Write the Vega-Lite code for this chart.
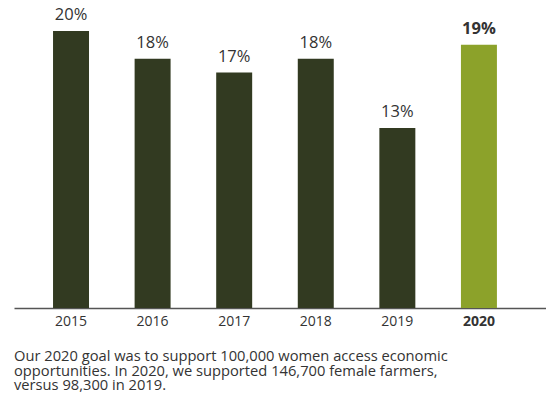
{
  "$schema": "https://vega.github.io/schema/vega-lite/v6.json",
  "width": 532,
  "height": 308,
  "padding": {"left": 14, "top": 0, "right": 0, "bottom": 0},
  "background": "white",
  "config": {"view": {"stroke": null}, "font": "Open Sans"},
  "title": {
    "text": [
      "Our 2020 goal was to support 100,000 women access economic",
      "opportunities. In 2020, we supported 146,700 female farmers,",
      "versus 98,300 in 2019."
    ],
    "orient": "bottom",
    "anchor": "start",
    "frame": "group",
    "fontSize": 14.7,
    "fontWeight": "normal",
    "color": "#333333",
    "lineHeight": 14.6,
    "offset": 21
  },
  "data": {
    "values": [
      {"year": "2015", "share": 0.20},
      {"year": "2016", "share": 0.18},
      {"year": "2017", "share": 0.17},
      {"year": "2018", "share": 0.18},
      {"year": "2019", "share": 0.13},
      {"year": "2020", "share": 0.19}
    ]
  },
  "encoding": {
    "x": {
      "field": "year",
      "type": "nominal",
      "sort": null,
      "scale": {"paddingInner": 0.559, "paddingOuter": 0.54, "align": 0.443},
      "axis": {
        "title": null,
        "labelAngle": 0,
        "ticks": false,
        "domain": true,
        "domainColor": "#555555",
        "domainWidth": 1.5,
        "labelFontSize": 14,
        "labelColor": "#333333",
        "labelPadding": 6,
        "labelFontWeight": {"condition": {"test": "datum.value === '2020'", "value": "bold"}, "value": "normal"}
      }
    },
    "y": {
      "field": "share",
      "type": "quantitative",
      "scale": {"domain": [0, 0.2224], "nice": false},
      "axis": null
    }
  },
  "layer": [
    {
      "mark": {"type": "bar"},
      "encoding": {
        "color": {
          "condition": {"test": "datum.year === '2020'", "value": "#8ca22a"},
          "value": "#323a21"
        }
      }
    },
    {
      "transform": [{"filter": "datum.year !== '2020'"}],
      "mark": {"type": "text", "baseline": "alphabetic", "dy": -11, "fontSize": 16.5, "color": "#333333", "fontWeight": "normal"},
      "encoding": {
        "text": {"field": "share", "type": "quantitative", "format": ".0%"}
      }
    },
    {
      "transform": [{"filter": "datum.year === '2020'"}],
      "mark": {"type": "text", "baseline": "alphabetic", "dy": -11, "fontSize": 16.5, "color": "#333333", "fontWeight": "bold"},
      "encoding": {
        "text": {"field": "share", "type": "quantitative", "format": ".0%"}
      }
    }
  ]
}
